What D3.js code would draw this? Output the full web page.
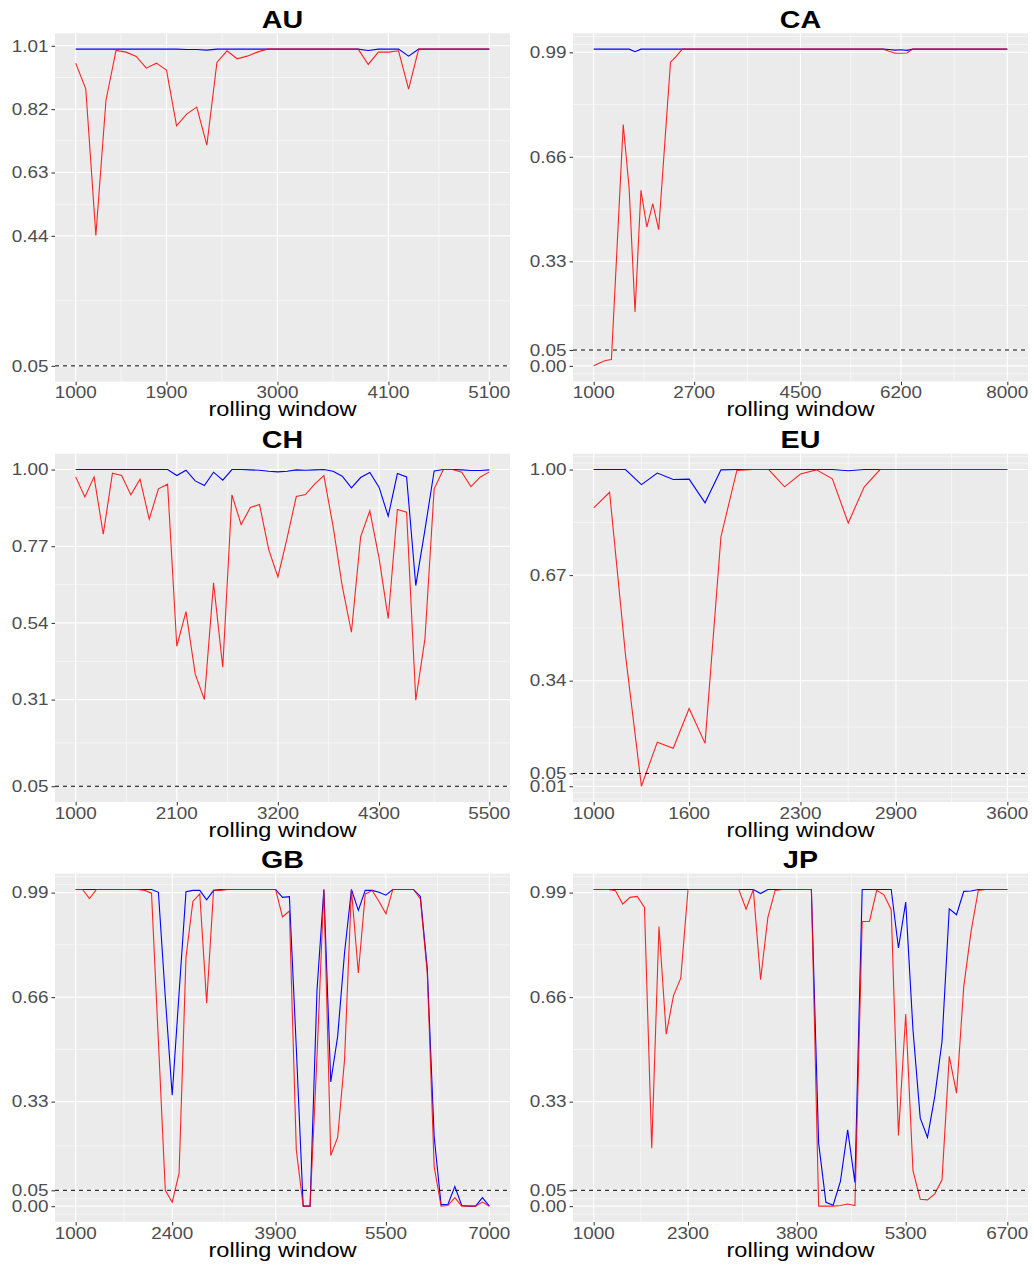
<!DOCTYPE html>
<html>
<head>
<meta charset="utf-8">
<script src="https://cdn.jsdelivr.net/npm/d3@7/dist/d3.min.js"></script>
<style>
  body { margin: 0; background: #fff; }
  text { font-family: "Liberation Sans", Arial, sans-serif; }
</style>
</head>
<body>
<div id="chart"></div>
<script>
// rolling windows start at 1000 and grow by 100
let windowStart = 1000;
let windowStep = 100;
let hline = 0.05;

// ---- AU ----
let AU_red = [0.958,0.881,0.441,0.846,0.996,0.991,0.978,0.943,0.958,0.937,
  0.77,0.805,0.826,0.712,0.96,0.995,0.971,0.979,0.991,1.0,
  1.0,1.0,1.0,1.0,1.0,1.0,1.0,1.0,1.0,0.954,
  0.991,0.991,0.995,0.88,1.0,1.0,1.0,1.0,1.0,1.0,
  1.0,1.0];
let AU_blue = [1.0,1.0,1.0,1.0,1.0,1.0,1.0,1.0,1.0,1.0,
  1.0,0.999,0.999,0.997,1.0,1.0,1.0,1.0,1.0,1.0,
  1.0,1.0,1.0,1.0,1.0,1.0,1.0,1.0,1.0,0.996,
  1.0,1.0,1.0,0.979,1.0,1.0,1.0,1.0,1.0,1.0,
  1.0,1.0];
let AU_xTicks = [1000,1900,3000,4100,5100];
let AU_yTicks = [0.05,0.44,0.63,0.82,1.01];

// ---- CA ----
let CA_red = [0.0,0.009,0.017,0.02,0.39,0.762,0.56,0.17,0.554,0.438,
  0.512,0.43,0.694,0.959,0.978,1.0,1.0,1.0,1.0,1.0,
  1.0,1.0,1.0,1.0,1.0,1.0,1.0,1.0,1.0,1.0,
  1.0,1.0,1.0,1.0,1.0,1.0,1.0,1.0,1.0,1.0,
  1.0,1.0,1.0,1.0,1.0,1.0,1.0,1.0,1.0,1.0,
  0.993,0.987,0.987,0.988,1.0,1.0,1.0,1.0,1.0,1.0,
  1.0,1.0,1.0,1.0,1.0,1.0,1.0,1.0,1.0,1.0,
  1.0];
let CA_blue = [1.0,1.0,1.0,1.0,1.0,1.0,1.0,0.992,1.0,1.0,
  1.0,1.0,1.0,1.0,1.0,1.0,1.0,1.0,1.0,1.0,
  1.0,1.0,1.0,1.0,1.0,1.0,1.0,1.0,1.0,1.0,
  1.0,1.0,1.0,1.0,1.0,1.0,1.0,1.0,1.0,1.0,
  1.0,1.0,1.0,1.0,1.0,1.0,1.0,1.0,1.0,1.0,
  0.999,0.997,0.998,0.996,1.0,1.0,1.0,1.0,1.0,1.0,
  1.0,1.0,1.0,1.0,1.0,1.0,1.0,1.0,1.0,1.0,
  1.0];
let CA_xTicks = [1000,2700,4500,6200,8000];
let CA_yTicks = [0.00,0.05,0.33,0.66,0.99];

// ---- CH ----
let CH_red = [0.978,0.918,0.978,0.806,0.989,0.982,0.924,0.971,0.851,0.942,
  0.956,0.47,0.574,0.387,0.31,0.66,0.407,0.924,0.835,0.886,
  0.895,0.76,0.678,0.794,0.919,0.925,0.956,0.982,0.83,0.65,
  0.512,0.798,0.876,0.735,0.553,0.88,0.872,0.308,0.493,0.942,
  1.0,1.0,0.992,0.949,0.977,0.993];
let CH_blue = [1.0,1.0,1.0,1.0,1.0,1.0,1.0,1.0,1.0,1.0,
  1.0,0.982,0.998,0.966,0.952,0.992,0.968,1.0,1.0,0.999,
  0.998,0.995,0.993,0.995,0.999,0.998,0.999,1.0,0.995,0.98,
  0.945,0.976,0.991,0.947,0.86,0.988,0.978,0.652,0.82,0.996,
  1.0,1.0,0.999,0.997,0.997,0.999];
let CH_xTicks = [1000,2100,3200,4300,5500];
let CH_yTicks = [0.05,0.31,0.54,0.77,1.00];

// ---- EU ----
let EU_red = [0.88,0.929,0.42,0.01,0.148,0.129,0.253,0.144,0.79,0.997,
  1.0,1.0,0.946,0.986,0.999,0.971,0.833,0.945,1.0,1.0,
  1.0,1.0,1.0,1.0,1.0,1.0,1.0];
let EU_blue = [1.0,1.0,1.0,0.953,0.989,0.969,0.97,0.896,0.999,1.0,
  1.0,1.0,1.0,1.0,1.0,1.0,0.996,1.0,1.0,1.0,
  1.0,1.0,1.0,1.0,1.0,1.0,1.0];
let EU_xTicks = [1000,1600,2300,2900,3600];
let EU_yTicks = [0.01,0.05,0.34,0.67,1.00];

// ---- GB ----
let GB_red = [1.0,1.0,0.971,1.0,1.0,1.0,1.0,1.0,1.0,1.0,
  0.997,0.988,0.52,0.05,0.012,0.104,0.786,0.962,0.986,0.641,
  0.997,0.997,1.0,1.0,1.0,1.0,1.0,1.0,1.0,1.0,
  0.913,0.932,0.178,0.0,0.0,0.47,1.0,0.16,0.217,0.462,
  1.0,0.736,0.985,0.997,0.962,0.923,1.0,1.0,1.0,1.0,
  0.97,0.736,0.125,0.0,0.002,0.027,0.0,0.0,0.0,0.013,
  0.0];
let GB_blue = [1.0,1.0,1.0,1.0,1.0,1.0,1.0,1.0,1.0,1.0,
  1.0,1.0,0.991,0.66,0.35,0.673,0.993,0.997,0.997,0.967,
  0.997,1.0,1.0,1.0,1.0,1.0,1.0,1.0,1.0,1.0,
  0.975,0.977,0.5,0.0,0.0,0.68,1.0,0.392,0.536,0.8,
  1.0,0.934,0.997,0.997,0.991,0.982,1.0,1.0,1.0,1.0,
  0.978,0.75,0.22,0.005,0.006,0.062,0.002,0.0,0.0,0.027,
  0.0];
let GB_xTicks = [1000,2400,3900,5500,7000];
let GB_yTicks = [0.00,0.05,0.33,0.66,0.99];

// ---- JP ----
let JP_red = [1.0,1.0,1.0,0.996,0.954,0.975,0.978,0.943,0.183,0.883,
  0.543,0.665,0.72,1.0,1.0,1.0,1.0,1.0,1.0,1.0,
  1.0,0.938,1.0,0.715,0.911,0.997,1.0,1.0,1.0,1.0,
  1.0,0.0,0.0,0.0,0.002,0.007,0.002,0.899,0.899,0.997,
  0.983,0.936,0.223,0.607,0.112,0.022,0.02,0.039,0.083,0.473,
  0.357,0.694,0.867,0.997,1.0,1.0,1.0,1.0];
let JP_blue = [1.0,1.0,1.0,1.0,1.0,1.0,1.0,1.0,1.0,1.0,
  1.0,1.0,1.0,1.0,1.0,1.0,1.0,1.0,1.0,1.0,
  1.0,1.0,1.0,0.987,1.0,1.0,1.0,1.0,1.0,1.0,
  1.0,0.199,0.012,0.003,0.078,0.241,0.075,1.0,1.0,1.0,
  1.0,1.0,0.815,0.96,0.557,0.278,0.217,0.346,0.52,0.939,
  0.92,0.994,0.995,1.0,1.0,1.0,1.0,1.0];
let JP_xTicks = [1000,2300,3800,5300,6700];
let JP_yTicks = [0.00,0.05,0.33,0.66,0.99];

let panels = [
  {name: "AU", red: AU_red, blue: AU_blue, xTicks: AU_xTicks, yTicks: AU_yTicks},
  {name: "CA", red: CA_red, blue: CA_blue, xTicks: CA_xTicks, yTicks: CA_yTicks},
  {name: "CH", red: CH_red, blue: CH_blue, xTicks: CH_xTicks, yTicks: CH_yTicks},
  {name: "EU", red: EU_red, blue: EU_blue, xTicks: EU_xTicks, yTicks: EU_yTicks},
  {name: "GB", red: GB_red, blue: GB_blue, xTicks: GB_xTicks, yTicks: GB_yTicks},
  {name: "JP", red: JP_red, blue: JP_blue, xTicks: JP_xTicks, yTicks: JP_yTicks}
];

let w = 1034;
let h = 1265;
let colLeft = [55, 573];
let plotW = 455;
let rowTop = [33.3, 453.7, 873.6];
let plotH = 348.4;
let textStretch = 1.18;   // glyphs in the picture are a bit wide

let viz = d3.select("#chart").append("svg")
  .attr("width", w)
  .attr("height", h)
  .style("display", "block");

// ggplot style minor breaks: midpoints, extended one step past the majors
function minorBreaks(b, lo, hi) {
  let bb = b.slice();
  let bd = bb[1] - bb[0];
  if (lo < bb[0]) bb.unshift(bb[0] - bd);
  if (hi > bb[bb.length - 1]) bb.push(bb[bb.length - 1] + bd);
  let out = [];
  for (let i = 0; i < bb.length - 1; i++) {
    out.push(bb[i]);
    out.push((bb[i] + bb[i + 1]) / 2);
  }
  out.push(bb[bb.length - 1]);
  return out.filter(v => v >= lo - 1e-9 && v <= hi + 1e-9 && !b.some(m => Math.abs(m - v) < 1e-9));
}

function expand(ext) {
  let d = (ext[1] - ext[0]) * 0.05;
  return [ext[0] - d, ext[1] + d];
}

function stretchedText(g, x, y, str, anchor, sx) {
  return g.append("text")
    .attr("transform", "translate(" + x + "," + y + ") scale(" + (sx || textStretch) + ",1)")
    .attr("text-anchor", anchor)
    .text(str);
}

panels.forEach(function(p, idx) {
  let col = idx % 2;
  let row = Math.floor(idx / 2);
  let x0 = colLeft[col];
  let y0 = rowTop[row];

  let data = p.red.map(function(v, i) {
    return {win: windowStart + i * windowStep, red: v, blue: p.blue[i]};
  });

  let xDom = expand(d3.extent(data, d => d.win));
  let yDom = expand(d3.extent(p.red.concat(p.blue, [hline])));

  let x = d3.scaleLinear().domain(xDom).range([x0, x0 + plotW]);
  let y = d3.scaleLinear().domain(yDom).range([y0 + plotH, y0]);

  let g = viz.append("g").attr("class", "panel-" + p.name);

  g.append("rect")
    .attr("x", x0).attr("y", y0)
    .attr("width", plotW).attr("height", plotH)
    .attr("fill", "#EBEBEB");

  // minor grid
  g.selectAll(".vminor").data(minorBreaks(p.xTicks, xDom[0], xDom[1])).enter().append("line")
    .attr("x1", d => x(d)).attr("x2", d => x(d))
    .attr("y1", y0).attr("y2", y0 + plotH)
    .attr("stroke", "#fff").attr("stroke-width", 0.55);
  g.selectAll(".hminor").data(minorBreaks(p.yTicks, yDom[0], yDom[1])).enter().append("line")
    .attr("y1", d => y(d)).attr("y2", d => y(d))
    .attr("x1", x0).attr("x2", x0 + plotW)
    .attr("stroke", "#fff").attr("stroke-width", 0.55);

  // major grid
  g.selectAll(".vmajor").data(p.xTicks).enter().append("line")
    .attr("x1", d => x(d)).attr("x2", d => x(d))
    .attr("y1", y0).attr("y2", y0 + plotH)
    .attr("stroke", "#fff").attr("stroke-width", 1.1);
  g.selectAll(".hmajor").data(p.yTicks).enter().append("line")
    .attr("y1", d => y(d)).attr("y2", d => y(d))
    .attr("x1", x0).attr("x2", x0 + plotW)
    .attr("stroke", "#fff").attr("stroke-width", 1.1);

  let lineBlue = d3.line().x(d => x(d.win)).y(d => y(d.blue));
  let lineRed = d3.line().x(d => x(d.win)).y(d => y(d.red));

  g.append("path").datum(data)
    .attr("d", lineBlue)
    .attr("fill", "none").attr("stroke", "blue").attr("stroke-width", 1.1);
  g.append("path").datum(data)
    .attr("d", lineRed)
    .attr("fill", "none").attr("stroke", "red").attr("stroke-width", 1.1)
    .attr("stroke-opacity", 0.85);

  g.append("line")
    .attr("x1", x0).attr("x2", x0 + plotW)
    .attr("y1", y(hline)).attr("y2", y(hline))
    .attr("stroke", "#000").attr("stroke-width", 1)
    .attr("stroke-dasharray", "4,4");

  // axes
  let xAxis = d3.axisBottom(x).tickValues(p.xTicks).tickSize(3.5).tickPadding(2).tickFormat(d3.format("d"));
  let xAxisGroup = g.append("g").attr("transform", "translate(0," + (y0 + plotH) + ")").call(xAxis);
  let yAxis = d3.axisLeft(y).tickValues(p.yTicks).tickSize(3.5).tickPadding(3).tickFormat(d3.format(".2f"));
  let yAxisGroup = g.append("g").attr("transform", "translate(" + x0 + ",0)").call(yAxis);

  [xAxisGroup, yAxisGroup].forEach(function(ag) {
    ag.select(".domain").remove();
    ag.selectAll(".tick line").attr("stroke", "#333333").attr("stroke-width", 1.05);
    ag.selectAll(".tick text").remove();
  });

  // tick labels (stretched like the picture)
  p.xTicks.forEach(function(t) {
    stretchedText(g, x(t), y0 + plotH + 16.6, String(t), "middle")
      .attr("font-size", 16).attr("fill", "#4D4D4D");
  });
  p.yTicks.forEach(function(t) {
    stretchedText(g, x0 - 6.5, y(t) + 5.8, d3.format(".2f")(t), "end")
      .attr("font-size", 16).attr("fill", "#4D4D4D");
  });

  stretchedText(g, x0 + plotW / 2, y0 + plotH + 34.6, "rolling window", "middle")
    .attr("font-size", 20).attr("fill", "#000");
  stretchedText(g, x0 + plotW / 2, y0 - 5.7, p.name, "middle", 1.22)
    .attr("font-size", 23.5).attr("font-weight", "bold").attr("fill", "#000");
});
</script>
</body>
</html>
